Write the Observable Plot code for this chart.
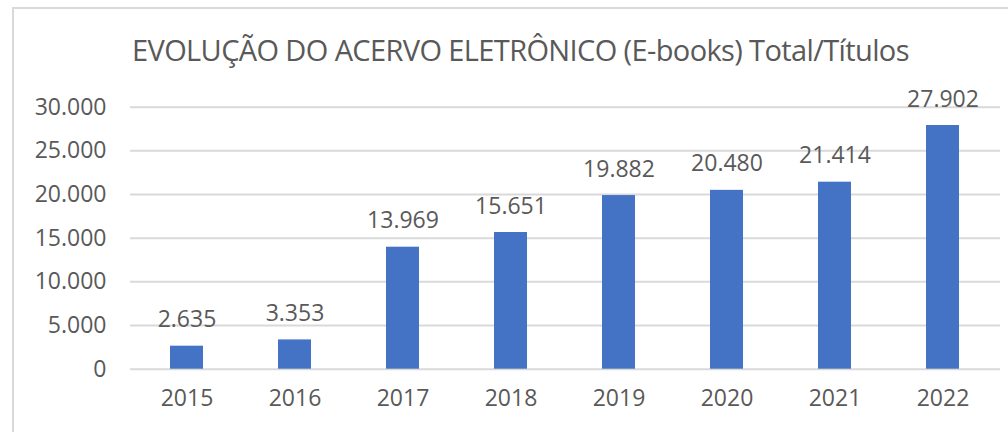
<!DOCTYPE html>
<html>
<head>
<meta charset="utf-8">
<script src="https://cdn.jsdelivr.net/npm/d3@7"></script>
<script src="https://cdn.jsdelivr.net/npm/@observablehq/plot@0.6"></script>
<style>
  html, body { margin: 0; padding: 0; background: #fff; }
  #wrap { position: relative; width: 1008px; height: 432px; overflow: hidden; }
  #frame { position: absolute; left: 12px; top: 7px; width: 1200px; height: 600px; border: 2px solid #d9d9d9; box-sizing: border-box; }
  #title { position: absolute; left: 132px; top: 30px; font-family: "Open Sans", sans-serif; font-size: 29px; line-height: normal; color: #595959; white-space: nowrap; letter-spacing: -0.62px; }
  #chart { position: absolute; left: 0; top: 0; }
</style>
</head>
<body>
<div id="wrap">
  <div id="frame"></div>
  <div id="chart"></div>
  <div id="title">EVOLUÇÃO DO ACERVO ELETRÔNICO (E-books) Total/Títulos</div>
</div>
<script>
const years = ["2015", "2016", "2017", "2018", "2019", "2020", "2021", "2022"];
const totals = [2635, 3353, 13969, 15651, 19882, 20480, 21414, 27902];
const yTicks = [0, 5000, 10000, 15000, 20000, 25000, 30000];

const data = years.map((year, i) => ({year, total: totals[i]}));
const ptBR = d3.formatLocale({decimal: ",", thousands: ".", grouping: [3], currency: ["R$", ""]});
const fmt = ptBR.format(",d");

const chart = Plot.plot({
  width: 1008,
  height: 432,
  marginLeft: 130,
  marginRight: 8,
  marginTop: 106.7,
  marginBottom: 63.3,
  style: {fontFamily: "'Open Sans', sans-serif", fontSize: "23px", color: "#595959", background: "transparent", overflow: "visible"},
  x: {domain: years, paddingInner: 0.69, paddingOuter: 0.345, label: null},
  y: {domain: [0, 30000], label: null},
  marks: [
    Plot.gridY(yTicks, {stroke: "#d9d9d9", strokeOpacity: 1, strokeWidth: 2}),
    Plot.axisY(yTicks, {tickSize: 0, tickPadding: 24, tickFormat: fmt, fill: "#595959", fontSize: 23, label: null}),
    Plot.axisX({tickSize: 0, tickPadding: 20, fill: "#595959", fontSize: 23, label: null}),
    Plot.barY(data, {x: "year", y: "total", fill: "#4472C4"}),
    Plot.text(data, {x: "year", y: "total", text: d => fmt(d.total), lineAnchor: "bottom", dy: -19, fill: "#595959", fontSize: 23})
  ]
});
document.getElementById("chart").appendChild(chart);
</script>
</body>
</html>
